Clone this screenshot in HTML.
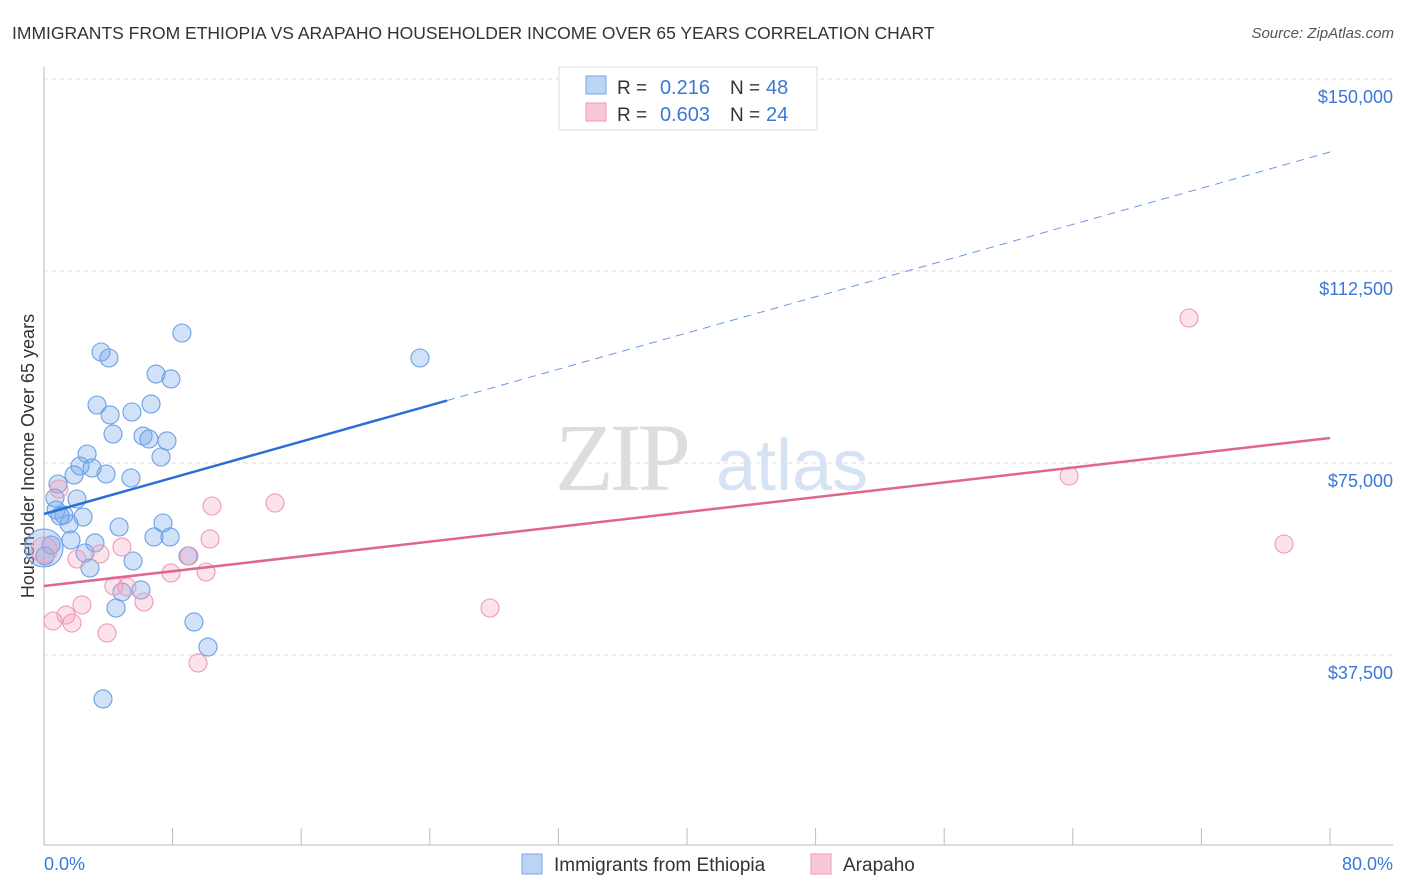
<!DOCTYPE html>
<html><head><meta charset="utf-8"><style>
body{margin:0;background:#fff;font-family:"Liberation Sans",sans-serif;}
#wrap{position:relative;width:1406px;height:892px;overflow:hidden}
.t{position:absolute;white-space:nowrap}
</style></head><body>
<div id="wrap">
<div class="t" style="left:12px;top:23px;font-size:17.5px;color:#333">IMMIGRANTS FROM ETHIOPIA VS ARAPAHO HOUSEHOLDER INCOME OVER 65 YEARS CORRELATION CHART</div>
<div class="t" style="right:12px;top:25px;font-size:15px;color:#555;font-style:italic">Source: ZipAtlas.com</div>
<svg id="svg" width="1406" height="892" style="position:absolute;left:0;top:0"></svg>
</div>
<script>
const yTicks=[37500,75000,112500,150000];
const yTickLabels=["$37,500","$75,000","$112,500","$150,000"];
const xTickLabels=["0.0%","80.0%"];
const blueX=[8.58,3.55,4.04,23.39,6.97,7.90,3.30,4.11,6.66,5.47,4.29,6.16,6.53,7.65,7.28,2.68,2.24,2.99,1.87,3.86,5.41,0.87,0.68,2.05,0.75,1.24,1.56,2.43,4.67,7.40,6.84,7.84,1.68,3.17,2.55,0.44,0.0,2.86,5.54,8.96,6.03,4.85,4.48,9.33,10.20,3.67,1.0,0.06];
const blueY=[100390,96680,95510,95510,92380,91410,86330,84380,86520,84960,80660,80270,79690,79300,76170,76760,74410,74020,72660,72850,72070,70900,68160,67970,65820,64840,63090,64450,62500,63280,60550,60550,59960,59380,57420,58980,58400,54490,55860,56840,50200,49800,46680,43950,39060,28910,64650,56840];
const pinkX=[71.23,63.77,77.14,27.75,14.37,10.45,10.33,10.08,7.90,9.02,4.85,3.48,2.05,0.93,0,4.35,5.16,6.22,2.36,1.37,0.56,1.74,3.92,9.58];
const pinkY=[103320,72460,59180,46680,67190,66600,60160,53710,53520,56840,58590,57230,56250,69920,58010,50980,50780,47850,47270,45310,44140,43750,41800,35940];
const blueTrend=[65040,135740]; const blueSolidEnd=25.07;
const pinkTrend=[50980,79880];
const sx=v=>44+v/80*1286, sy=v=>847-v*192/37500;
const svg=document.getElementById('svg');const NS='http://www.w3.org/2000/svg';
function mk(tag,attrs,name){const e=document.createElementNS(NS,tag);for(const k in attrs)e.setAttribute(k,attrs[k]);


svg.appendChild(e);return e;}
mk('line',{x1:44,y1:79,x2:1393,y2:79,stroke:'#ddd','stroke-dasharray':'4,4'},'gridline-top');
yTicks.forEach((v,i)=>{mk('line',{x1:44,y1:sy(v),x2:1393,y2:sy(v),stroke:'#ddd','stroke-dasharray':'4,4'},'gridline');
const t=mk('text',{x:1393,y:sy(v)+24,'text-anchor':'end','font-size':18,fill:'#3a78d8'},'y-tick-label');t.textContent=yTickLabels[i];});
mk('line',{x1:44,y1:67,x2:44,y2:845,stroke:'#bbb'},'y-axis');
mk('line',{x1:44,y1:845,x2:1393,y2:845,stroke:'#bbb'},'x-axis');
for(let i=1;i<=10;i++)mk('line',{x1:sx(i*8),y1:828,x2:sx(i*8),y2:845,stroke:'#bbb'},'x-tick');
let t=mk('text',{x:44,y:870,'font-size':18,fill:'#3a78d8'},'x-tick-label');t.textContent=xTickLabels[0];
t=mk('text',{x:1393,y:870,'text-anchor':'end','font-size':18,fill:'#3a78d8'},'x-tick-label');t.textContent=xTickLabels[1];
t=mk('text',{x:34,y:456,'text-anchor':'middle','font-size':18,fill:'#333',transform:'rotate(-90 34 456)'},'y-axis-title');t.textContent='Householder Income Over 65 years';
t=mk('text',{x:555,y:490,'font-size':96,fill:'#ddd','font-family':'Liberation Serif',"letter-spacing":"-4"},'watermark-zip');t.textContent='ZIP';
t=mk('text',{x:716,y:490,'font-size':72,fill:'#d6e3f5'},'watermark-atlas');t.textContent='atlas';
blueX.forEach((x,i)=>{const big=(i==36);mk('circle',{cx:sx(x),cy:sy(blueY[i]),r:big?19:9,fill:'rgba(120,170,235,0.35)',stroke:'#6aa0e6','stroke-width':1.1},'blue-point');});
pinkX.forEach((x,i)=>{const big=(i==14);mk('circle',{cx:sx(x),cy:sy(pinkY[i]),r:big?13:9,fill:'rgba(245,160,185,0.3)',stroke:'#ee9ab5','stroke-width':1.1},'pink-point');});
const by=x=>blueTrend[0]+(blueTrend[1]-blueTrend[0])*x/80;
mk('line',{x1:sx(0),y1:sy(by(0)),x2:sx(blueSolidEnd),y2:sy(by(blueSolidEnd)),stroke:'#2a6fd6','stroke-width':2.5},'blue-trend-line');
mk('line',{x1:sx(blueSolidEnd),y1:sy(by(blueSolidEnd)),x2:sx(80),y2:sy(by(80)),stroke:'#6a9ade','stroke-width':1,'stroke-dasharray':'8,6'},'blue-trend-dashed');
mk('line',{x1:sx(0),y1:sy(pinkTrend[0]),x2:sx(80),y2:sy(pinkTrend[1]),stroke:'#e06690','stroke-width':2.5},'pink-trend-line');
mk('rect',{x:559,y:67,width:258,height:63,fill:'#fff',stroke:'#ddd'},'legend-box');
mk('rect',{x:586,y:76,width:20,height:18,fill:'#bcd5f5',stroke:'#7aa8e6'},'legend-swatch-blue');
mk('rect',{x:586,y:103,width:20,height:18,fill:'#f9c8d6',stroke:'#ee9ab5'},'legend-swatch-pink');
[[94,'0.216','48'],[121,'0.603','24']].forEach(r=>{
 let a=mk('text',{x:617,y:r[0],'font-size':19,fill:'#333'},'legend-r-label');a.textContent='R = ';
 a=mk('text',{x:710,y:r[0],'font-size':20,fill:'#3a78d8','text-anchor':'end'},'legend-r-value');a.textContent=r[1];
 a=mk('text',{x:730,y:r[0],'font-size':19,fill:'#333'},'legend-n-label');a.textContent='N = ';
 a=mk('text',{x:766,y:r[0],'font-size':20,fill:'#3a78d8'},'legend-n-value');a.textContent=r[2];});
mk('rect',{x:522,y:854,width:20,height:20,fill:'#bcd5f5',stroke:'#7aa8e6'},'bottom-legend-swatch-blue');
t=mk('text',{x:554,y:871,'font-size':19,fill:'#333'},'bottom-legend-ethiopia');t.textContent='Immigrants from Ethiopia';
mk('rect',{x:811,y:854,width:20,height:20,fill:'#f9c8d6',stroke:'#ee9ab5'},'bottom-legend-swatch-pink');
t=mk('text',{x:843,y:871,'font-size':19,fill:'#333'},'bottom-legend-arapaho');t.textContent='Arapaho';
</script>
</body></html>
